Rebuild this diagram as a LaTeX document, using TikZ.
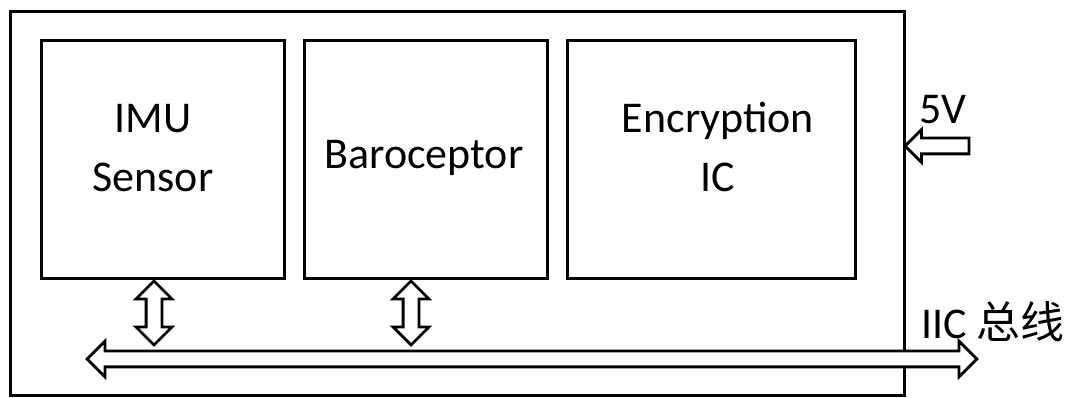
\documentclass[tikz,border=0pt]{standalone}
\usepackage{fontspec}
\setmainfont{Carlito}
\newfontfamily\cjk{Noto Sans CJK SC}
\usepackage{tikz}
\usetikzlibrary{calc,shapes.arrows}

\begin{document}
\begin{tikzpicture}[x=0.02cm, y=-0.02cm]
    \tikzset{B/.style={rectangle, draw=black, line width=1.7pt, inner sep=0pt,
                       align=center, font=\fontsize{25}{34}\selectfont},
             D/.style={double arrow, draw=black, fill=white, line width=1.6pt, inner sep=0.13cm,
                       double arrow head extend=0.2cm, double arrow tip angle=90},
             A/.style={single arrow, draw=black, fill=white, line width=1.6pt, inner sep=0.13cm,
                       single arrow head extend=0.17cm, single arrow tip angle=90,
                       shape border rotate=180}}
    \useasboundingbox (0,0) rectangle (1069,398);
    \node[B, minimum width=17.9cm, minimum height=7.7cm] (board) at (457.5,203.5) {};
    \node[B, minimum width=4.88cm, minimum height=4.78cm] (imu) at (163,159.5) {};
    \node[B, minimum width=4.88cm, minimum height=4.78cm] (baro) at (426,159.5) {};
    \node[B, minimum width=5.78cm, minimum height=4.78cm] (enc) at (711.5,159.5) {};
    \node[font=\fontsize{25}{34}\selectfont, align=center] (imut) at (153,148) {IMU\\Sensor};
    \node[font=\fontsize{25}{34}\selectfont] (barot) at (424,158) {Baroceptor};
    \node[font=\fontsize{25}{34}\selectfont, align=center] (enct) at (718,147) {Encryption\\IC};
    % bus
    \node[D, minimum height=17.8cm] (bus) at (532,359) {};
    \node[D, minimum height=1.28cm, shape border rotate=90] (imubus) at (154,313) {};
    \node[D, minimum height=1.28cm, shape border rotate=90] (barobus) at (411,313) {};
    \node[font=\fontsize{25}{30}\selectfont, anchor=west] (iic) at (915,322) {IIC {\cjk 总线}};
    % supply
    \node[A, minimum height=1.28cm] (pwr) at (941,146) {};
    \node[font=\fontsize{25}{30}\selectfont, anchor=west] (vin) at (913,110) {5V};
\end{tikzpicture}
\end{document}
